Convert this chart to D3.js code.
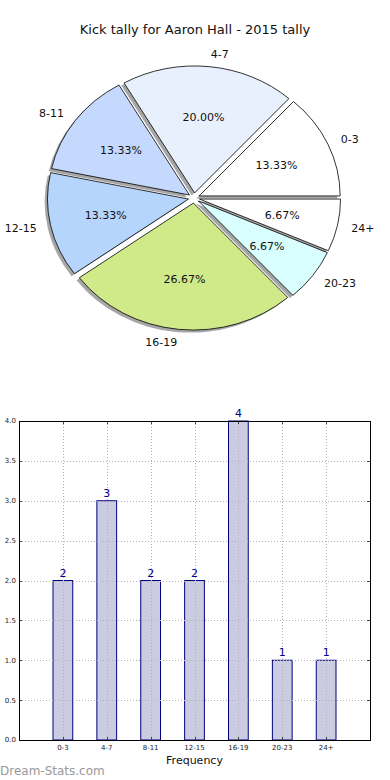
<!DOCTYPE html>
<html>
<head>
<meta charset="utf-8">
<script src="https://d3js.org/d3.v7.min.js"></script>
<style>
  body { margin: 0; background: #fff; }
  svg { display: block; font-family: "DejaVu Sans", sans-serif; }
</style>
</head>
<body>
<svg id="chart" width="390" height="780"></svg>
<script>
// data
const categories = ["0-3", "4-7", "8-11", "12-15", "16-19", "20-23", "24+"];
const counts = [2, 3, 2, 2, 4, 1, 1];
const sliceColors = ["#ffffff", "#e9f0fd", "#c5d8fd", "#b5d5fd", "#d0ea8a", "#d9fefe", "#ffffff"];
const yTicks = [0, 0.5, 1, 1.5, 2, 2.5, 3, 3.5, 4];
const title = "Kick tally for Aaron Hall - 2015 tally";

const svg = d3.select("#chart");

svg.append("text")
  .attr("x", 195).attr("y", 34)
  .attr("text-anchor", "middle")
  .attr("font-size", 13)
  .attr("fill", "#111")
  .text(title);

// ---- pie (elliptical, like matplotlib without equal aspect)
const cx = 194, cy = 198, rx = 141, ry = 127;
const explode = 0.04;
const total = d3.sum(counts);

// matplotlib goes counter-clockwise from 3 o'clock
const pie = d3.pie().sort(null).startAngle(Math.PI / 2).endAngle(Math.PI / 2 - 2 * Math.PI);
const arcs = pie(counts);
const arc = d3.arc().innerRadius(0).outerRadius(rx);

const pieG = svg.append("g").attr("transform", `translate(${cx},${cy})`);

function pos(a, k) {
  return [Math.sin(a) * rx * k, -Math.cos(a) * ry * k];
}

arcs.forEach((d, i) => {
  const mid = (d.startAngle + d.endAngle) / 2;
  const [ex, ey] = pos(mid, explode);
  // shadow
  pieG.append("path")
    .attr("d", arc(d))
    .attr("transform", `translate(${ex - 0.02 * rx},${ey + 0.02 * ry}) scale(1,${ry / rx})`)
    .attr("fill", "#4d4d4d")
    .attr("opacity", 0.5);
});

arcs.forEach((d, i) => {
  const mid = (d.startAngle + d.endAngle) / 2;
  const [ex, ey] = pos(mid, explode);
  pieG.append("path")
    .attr("d", arc(d))
    .attr("transform", `translate(${ex},${ey}) scale(1,${ry / rx})`)
    .attr("fill", sliceColors[i])
    .attr("stroke", "#000")
    .attr("stroke-width", 0.8)
    .attr("vector-effect", "non-scaling-stroke");

  const [lx, ly] = pos(mid, 1.1);
  pieG.append("text")
    .attr("x", ex + lx).attr("y", ey + ly)
    .attr("dy", "0.35em")
    .attr("text-anchor", lx > 0 ? "start" : "end")
    .attr("font-size", 11)
    .attr("fill", "#111")
    .text(categories[i]);

  const [px, py] = pos(mid, 0.6);
  pieG.append("text")
    .attr("x", ex + px).attr("y", ey + py)
    .attr("dy", "0.35em")
    .attr("text-anchor", "middle")
    .attr("font-size", 11)
    .attr("fill", "#111")
    .text((d.value / total * 100).toFixed(2) + "%");
});

// ---- bar chart
const plotL = 19, plotR = 370, plotT = 421, plotB = 740;
const x = d3.scaleLinear().domain([-1, categories.length]).range([plotL, plotR]);
const y = d3.scaleLinear().domain([0, 4]).range([plotB, plotT]);
const barW = x(0.45) - x(0);

const bars = svg.append("g");
bars.selectAll("rect").data(counts).join("rect")
  .attr("x", (d, i) => x(i) - barW / 2)
  .attr("y", d => y(d))
  .attr("width", barW)
  .attr("height", d => y(0) - y(d))
  .attr("fill", "#cbcbe2")
  .attr("stroke", "#00007f")
  .attr("stroke-width", 1);

// grid on top of bars
const grid = svg.append("g")
  .attr("stroke", "#b4b4b4")
  .attr("stroke-width", 1)
  .attr("stroke-dasharray", "1,2");
grid.selectAll(".gy").data(yTicks).join("line")
  .attr("x1", plotL).attr("x2", plotR)
  .attr("y1", d => Math.round(y(d)) + 0.5).attr("y2", d => Math.round(y(d)) + 0.5);
grid.selectAll(".gx").data(categories).join("line")
  .attr("x1", (d, i) => Math.round(x(i)) + 0.5).attr("x2", (d, i) => Math.round(x(i)) + 0.5)
  .attr("y1", plotT).attr("y2", plotB);

// ticks (inside, all sides)
const ticks = svg.append("g").attr("stroke", "#444").attr("stroke-width", 1);
yTicks.forEach(t => {
  const yy = Math.round(y(t)) + 0.5;
  ticks.append("line").attr("x1", plotL).attr("x2", plotL + 3).attr("y1", yy).attr("y2", yy);
  ticks.append("line").attr("x1", plotR - 3).attr("x2", plotR).attr("y1", yy).attr("y2", yy);
});
categories.forEach((c, i) => {
  const xx = Math.round(x(i)) + 0.5;
  ticks.append("line").attr("x1", xx).attr("x2", xx).attr("y1", plotB).attr("y2", plotB - 3);
  ticks.append("line").attr("x1", xx).attr("x2", xx).attr("y1", plotT).attr("y2", plotT + 3);
});

// frame
svg.append("rect")
  .attr("x", plotL + 0.5).attr("y", plotT + 0.5)
  .attr("width", plotR - plotL).attr("height", plotB - plotT)
  .attr("fill", "none").attr("stroke", "#000").attr("stroke-width", 1);

// tick labels
svg.append("g").selectAll("text").data(yTicks).join("text")
  .attr("x", plotL - 3).attr("y", d => y(d))
  .attr("dy", "0.35em")
  .attr("text-anchor", "end")
  .attr("font-size", 7)
  .attr("fill", "#222")
  .text(d => d.toFixed(1));

svg.append("g").selectAll("text").data(categories).join("text")
  .attr("x", (d, i) => x(i)).attr("y", plotB + 10)
  .attr("text-anchor", "middle")
  .attr("font-size", 7)
  .attr("fill", "#222")
  .text(d => d);

// value labels
svg.append("g").selectAll("text").data(counts).join("text")
  .attr("x", (d, i) => x(i)).attr("y", d => y(d) - 4)
  .attr("text-anchor", "middle")
  .attr("font-size", 11)
  .attr("fill", "#00008b")
  .text(d => d);

svg.append("text")
  .attr("x", (plotL + plotR) / 2).attr("y", 764)
  .attr("text-anchor", "middle")
  .attr("font-size", 11)
  .attr("fill", "#111")
  .text("Frequency");

svg.append("text")
  .attr("x", 0).attr("y", 775)
  .attr("font-size", 12)
  .attr("fill", "#999")
  .text("Dream-Stats.com");
</script>
</body>
</html>
